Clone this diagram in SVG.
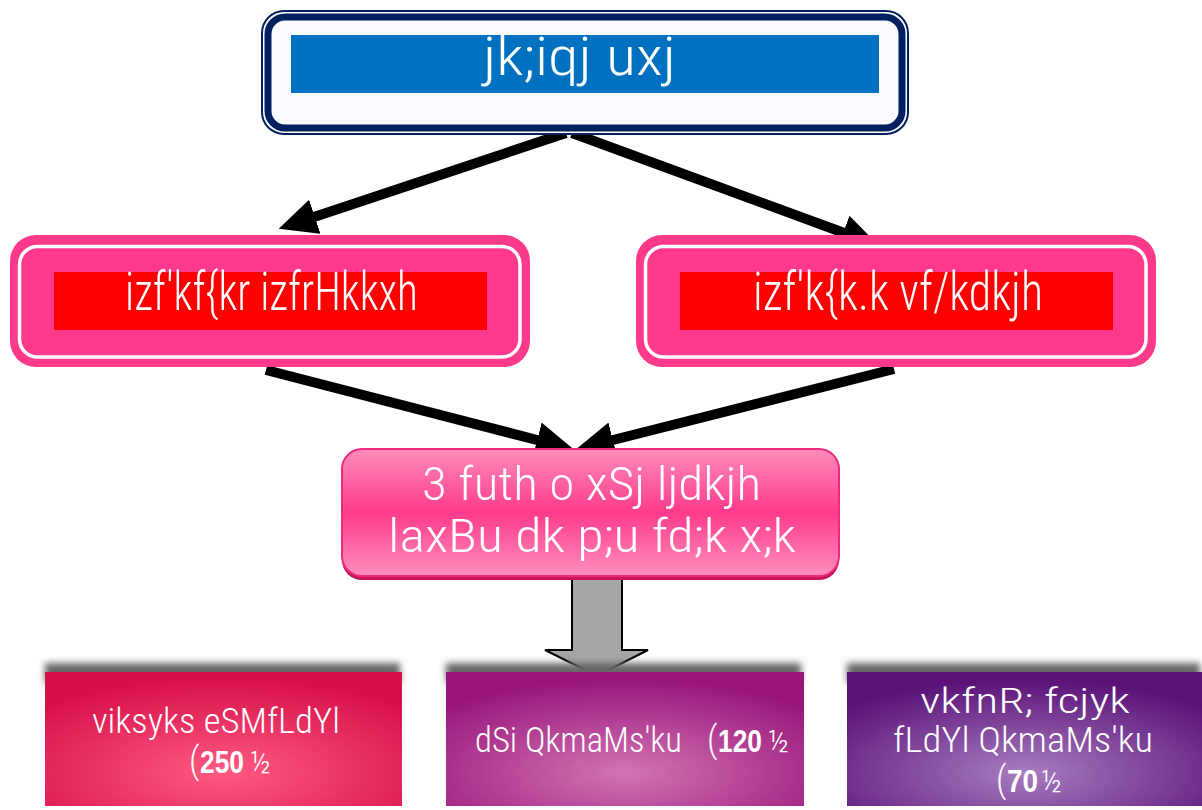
<svg xmlns="http://www.w3.org/2000/svg" width="1202" height="810" viewBox="0 0 1202 810">
<style>
.t{font-family:"Roboto Condensed","Roboto","Open Sans","Liberation Sans",Arial,sans-serif;font-weight:300;font-stretch:condensed;fill:#ffffff}
.b{font-family:"Liberation Sans",Arial,sans-serif;font-weight:bold;fill:#ffffff}
.conn{stroke:#000;stroke-width:10;fill:none;marker-end:url(#ah)}
</style>
<defs>
<marker id="ah" markerUnits="userSpaceOnUse" markerWidth="40" markerHeight="36" viewBox="0 0 40 36" refX="4" refY="18" orient="auto">
<path d="M0,0 L38,18 L0,36 z" fill="#000"/>
</marker>
<linearGradient id="gMid" x1="0" y1="0" x2="0" y2="1">
<stop offset="0" stop-color="#ff8cbb"/>
<stop offset="0.5" stop-color="#ff3a8c"/>
<stop offset="1" stop-color="#ff8fbe"/>
</linearGradient>
<radialGradient id="g1" cx="0.5" cy="0.75" r="0.7">
<stop offset="0" stop-color="#ff5a82"/>
<stop offset="1" stop-color="#d8104a"/>
</radialGradient>
<radialGradient id="g2" cx="0.5" cy="0.75" r="0.7">
<stop offset="0" stop-color="#d274b4"/>
<stop offset="1" stop-color="#99157a"/>
</radialGradient>
<radialGradient id="g3" cx="0.5" cy="0.75" r="0.7">
<stop offset="0" stop-color="#a87cc0"/>
<stop offset="1" stop-color="#5a1278"/>
</radialGradient>
<filter id="blur" x="-10%" y="-50%" width="120%" height="200%">
<feGaussianBlur stdDeviation="3.5"/>
</filter>
</defs>

<g id="connectors">
<line class="conn" x1="566" y1="133" x2="311" y2="218"/>
<line class="conn" x1="572" y1="133" x2="847" y2="234"/>
<line class="conn" x1="266" y1="370" x2="541" y2="441"/>
<line class="conn" x1="894" y1="369" x2="609" y2="441"/>
<path d="M572,577 H622 V650 H648 L597,676 L545,650 H572 Z" fill="#a6a6a6" stroke="#000" stroke-width="2"/>
</g>

<g id="node-top">
<rect x="262" y="11" width="646" height="123" rx="22" fill="#ffffff" stroke="#002060" stroke-width="2"/>
<rect x="268" y="17" width="634" height="111" rx="17" fill="#f9fbff" stroke="#002060" stroke-width="7"/>
<rect x="291" y="35" width="588" height="58" fill="#0070c0"/>
<text class="t" x="483" y="75" font-size="54" textLength="193" lengthAdjust="spacingAndGlyphs">jk;iqj uxj</text>
</g>

<g id="node-left">
<rect x="10" y="235" width="520" height="132" rx="26" fill="#ff3a8c"/>
<rect x="19.5" y="246.5" width="500.5" height="110.5" rx="18" fill="none" stroke="#ffffff" stroke-width="3.5"/>
<rect x="54" y="272" width="433" height="58" fill="#ff0000"/>
<text class="t" x="125" y="310" font-size="54" textLength="293" lengthAdjust="spacingAndGlyphs">izf'kf{kr izfrHkkxh</text>
</g>

<g id="node-right">
<rect x="636" y="235" width="520" height="132" rx="26" fill="#ff3a8c"/>
<rect x="645.5" y="246.5" width="500.5" height="110.5" rx="18" fill="none" stroke="#ffffff" stroke-width="3.5"/>
<rect x="680" y="272" width="433" height="58" fill="#ff0000"/>
<text class="t" x="753" y="310" font-size="54" textLength="290" lengthAdjust="spacingAndGlyphs">izf'k{k.k vf/kdkjh</text>
</g>

<g id="node-middle">
<rect x="342" y="452" width="497" height="128" rx="20" fill="#c8145a"/>
<rect x="342" y="449" width="497" height="127" rx="20" fill="url(#gMid)" stroke="#f0287e" stroke-width="2"/>
<text class="t" x="422" y="500" font-size="46" textLength="339" lengthAdjust="spacingAndGlyphs">3 futh o xSj ljdkjh</text>
<text class="t" x="388" y="552" font-size="46" textLength="408" lengthAdjust="spacingAndGlyphs">laxBu dk p;u fd;k x;k</text>
</g>

<g id="box-apollo">
<rect x="45" y="663" width="355" height="20" fill="#666" filter="url(#blur)"/>
<rect x="45" y="672" width="357" height="134" fill="url(#g1)"/>
<text class="t" x="92" y="733" font-size="35" textLength="248" lengthAdjust="spacingAndGlyphs">viksyks eSMfLdYl</text>
<text y="773" font-size="32"><tspan class="t" x="189" font-size="36">(</tspan><tspan class="b" x="200" font-size="31" textLength="44" lengthAdjust="spacingAndGlyphs">250</tspan><tspan class="t" x="250" font-size="32">½</tspan></text>
</g>

<g id="box-cap">
<rect x="446" y="663" width="355" height="20" fill="#666" filter="url(#blur)"/>
<rect x="446" y="672" width="358" height="134" fill="url(#g2)"/>
<text class="t" x="475" y="752" font-size="35" textLength="207" lengthAdjust="spacingAndGlyphs">dSi QkmaMs'ku</text>
<text y="752" font-size="32"><tspan class="t" x="707" font-size="36">(</tspan><tspan class="b" x="718" font-size="31" textLength="44" lengthAdjust="spacingAndGlyphs">120</tspan><tspan class="t" x="768" font-size="32">½</tspan></text>
</g>

<g id="box-birla">
<rect x="847" y="663" width="353" height="20" fill="#666" filter="url(#blur)"/>
<rect x="847" y="672" width="355" height="134" fill="url(#g3)"/>
<text class="t" x="920" y="713" font-size="35" textLength="210" lengthAdjust="spacingAndGlyphs">vkfnR; fcjyk</text>
<text class="t" x="893" y="752" font-size="35" textLength="260" lengthAdjust="spacingAndGlyphs">fLdYl QkmaMs'ku</text>
<text y="792" font-size="32"><tspan class="t" x="996" font-size="36">(</tspan><tspan class="b" x="1007" font-size="31" textLength="31" lengthAdjust="spacingAndGlyphs">70</tspan><tspan class="t" x="1041" font-size="32">½</tspan></text>
</g>
</svg>
